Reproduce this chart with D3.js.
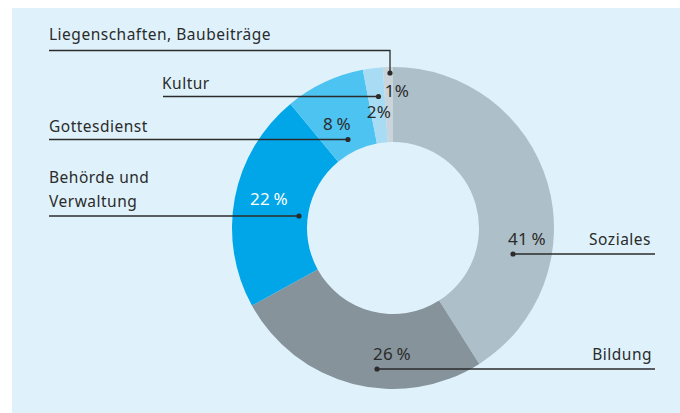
<!DOCTYPE html>
<html>
<head>
<meta charset="utf-8">
<script src="https://cdn.jsdelivr.net/npm/d3@7"></script>
<style>
  body { margin: 0; background: #ffffff; }
  text { font-family: "Noto Sans", sans-serif; fill: #2b2b2b; }
</style>
</head>
<body>
<div id="svg-container"></div>
<script>
// chart data
var categories = ["Soziales", "Bildung", "Behörde und Verwaltung", "Gottesdienst", "Kultur", "Liegenschaften, Baubeiträge"];
var shares     = [41, 26, 22, 8, 2, 1];
var colors     = ["#adbfc8", "#87939b", "#00a6e8", "#4cc3f1", "#a8dcf5", "#c9d5da"];

var svgWidth  = 680;
var svgHeight = 413;
var cx = 393, cy = 228;      // donut centre
var outerR = 161, innerR = 86;

var svg = d3.select("#svg-container")
  .append("svg")
  .attr("width", svgWidth)
  .attr("height", svgHeight);

// light blue panel
svg.append("rect")
  .attr("x", 12).attr("y", 8)
  .attr("width", svgWidth - 12).attr("height", svgHeight - 8)
  .style("fill", "#dff2fb");

var pie = d3.pie().sort(null).value(function(d) { return d; });
var arcs = pie(shares);
var arc = d3.arc().innerRadius(innerR).outerRadius(outerR);

var g = svg.append("g").attr("transform", "translate(" + cx + "," + cy + ")");
g.selectAll("path")
  .data(arcs)
  .enter()
  .append("path")
  .attr("d", arc)
  .style("fill", function(d, i) { return colors[i]; });

// label layout: dot radius, line row, text position, percent label position
var labelSpec = [
  { r: 122.8, line: 254,  lineEnd: 655, textX: 651, textOff: 9,  anchor: "end",   lines: ["Soziales"], pct: [527, 245], pctColor: "#2b2b2b" },
  { r: 141,   line: 369,  lineEnd: 655, textX: 652, textOff: 9,  anchor: "end",   lines: ["Bildung"], pct: [392, 360], pctColor: "#2b2b2b" },
  { r: 94.8,  line: 216,  lineEnd: 49,  textX: 49,  textOff: 9,  anchor: "start", lines: ["Behörde und", "Verwaltung"], pct: [269, 205], pctColor: "#ffffff" },
  { r: 99.3,  line: 139.5, lineEnd: 49, textX: 49,  textOff: 8,  anchor: "start", lines: ["Gottesdienst"], pct: [337, 130], pctColor: "#2b2b2b" },
  { r: 132.3, line: 96.5, lineEnd: 163, textX: 162, textOff: 8,  anchor: "start", lines: ["Kultur"], pct: [379, 118], pctColor: "#2b2b2b" },
  { r: 155,   line: 50.5, lineEnd: 49,  textX: 49,  textOff: 11, anchor: "start", lines: ["Liegenschaften, Baubeiträge"], pct: [397, 97], pctColor: "#2b2b2b" }
];

// dot sits on the line row, at the given radius
function dotX(i) {
  var s = labelSpec[i];
  if (i === 5) return cx - 3;
  if (i === 1) return cx - 16;
  var dy = s.line - cy;
  var dx = Math.sqrt(Math.max(0, s.r * s.r - dy * dy));
  return i === 0 ? cx + dx : cx - dx;
}

var lbl = svg.append("g");
arcs.forEach(function(a, i) {
  var s = labelSpec[i];
  var x0 = dotX(i);
  var y0 = s.line;

  if (i === 5) {
    // elbow line for the thin top slice
    lbl.append("path")
      .attr("d", "M" + s.lineEnd + "," + s.line + "H" + x0 + "V" + 73)
      .attr("fill", "none")
      .attr("stroke", "#2b2b2b")
      .attr("stroke-width", 1.3);
    y0 = 73;
  } else {
    lbl.append("line")
      .attr("x1", x0).attr("y1", s.line)
      .attr("x2", s.lineEnd).attr("y2", s.line)
      .attr("stroke", "#2b2b2b")
      .attr("stroke-width", 1.3);
  }
  lbl.append("circle")
    .attr("cx", x0).attr("cy", y0)
    .attr("r", 2.6)
    .style("fill", "#2b2b2b");

  var t = lbl.append("text")
    .attr("x", s.textX)
    .attr("y", s.line - s.textOff - (s.lines.length - 1) * 24)
    .attr("text-anchor", s.anchor)
    .attr("font-size", 15.5)
    .style("letter-spacing", "0.5px");
  s.lines.forEach(function(l, k) {
    t.append("tspan").attr("x", s.textX).attr("dy", k === 0 ? 0 : 24).text(l);
  });

  lbl.append("text")
    .attr("x", s.pct[0]).attr("y", s.pct[1])
    .attr("text-anchor", "middle")
    .attr("font-size", 17)
    .style("letter-spacing", "0.4px")
    .style("fill", s.pctColor)
    .text(shares[i] + (shares[i] < 3 ? "%" : "\u2009%"));
});
</script>
</body>
</html>
